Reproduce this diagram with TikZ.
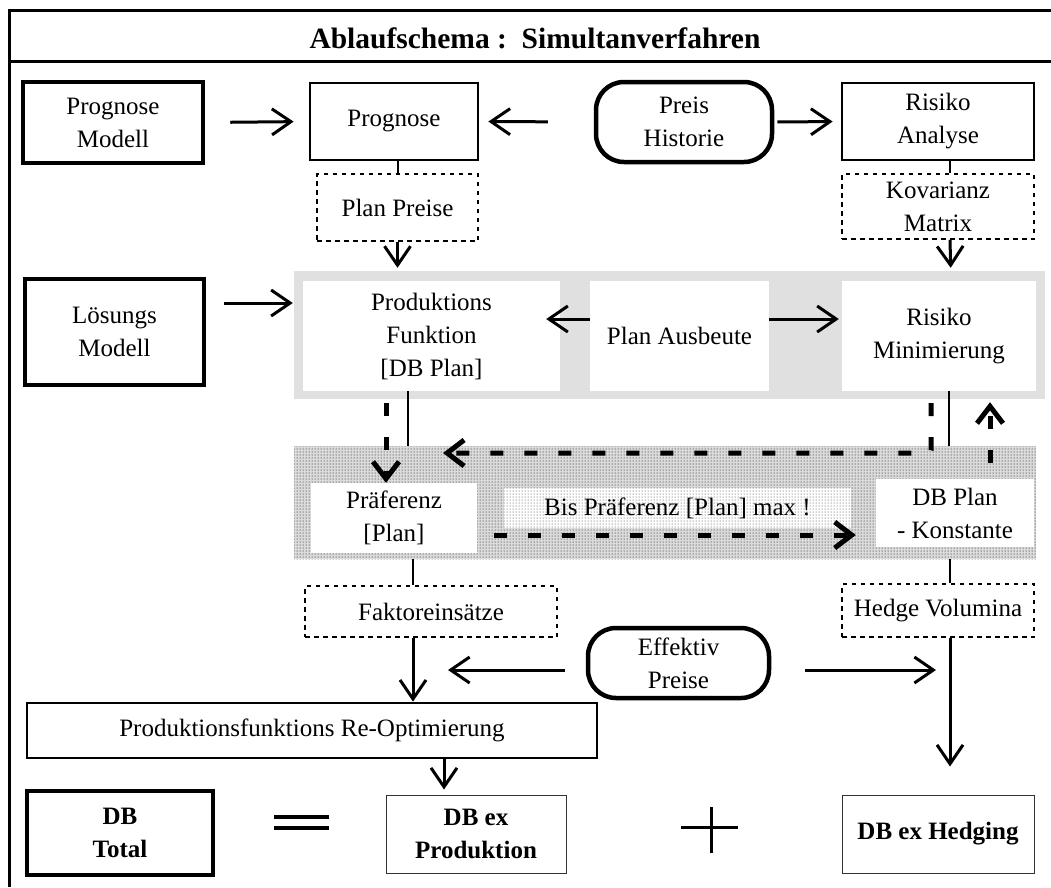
\documentclass[tikz,border=0pt]{standalone}
\usepackage{fontspec}
\setmainfont{Liberation Serif}
\usetikzlibrary{arrows.meta,patterns}

\begin{document}
\begin{tikzpicture}[x=1pt,y=-1pt,
  every node/.style={inner sep=0pt, align=center, font=\fontsize{25}{33}\selectfont},
  bold/.style={font=\fontsize{25}{33}\selectfont\bfseries},
  heavybox/.style={draw, line width=4.5pt},
  framebox/.style={draw, line width=2.8pt},
  thinbox/.style={draw=black!80, line width=1pt},
  dotbox/.style={draw, line width=1.8pt, dash pattern=on 4.5pt off 4.5pt},
  pill/.style={draw, line width=4.5pt, rounded corners=28pt},
  whitebox/.style={fill=white},
  link/.style={line width=2pt},
  arr/.style={line width=3pt, -{Straight Barb[length=19pt,width=26pt]}},
  dasharr/.style={line width=5pt, dash pattern=on 13pt off 21pt, -{Straight Barb[length=17pt,width=26pt,line width=5pt]}},
]
\useasboundingbox (0,0) rectangle (1051,887);

% frame and title bar
\draw[line width=3pt] (1051,10) -- (9,10) -- (9,887);
\draw[line width=3pt] (9,61) -- (1051,61);
\node[font=\fontsize{29.5}{34}\selectfont\bfseries, anchor=base] (title) at (535,48) {Ablaufschema :\ \ Simultanverfahren};

% first row
\node[heavybox, minimum width=180, minimum height=81] (progmod) at (113,122.5) {Prognose\\Modell};
\node[framebox, minimum width=168, minimum height=77] (prog) at (394,121.5) {Prognose};
\node[pill, minimum width=176, minimum height=80] (preis) at (684,122) {Preis\\Historie};
\node[framebox, minimum width=192, minimum height=77] (risana) at (938,121.5) {Risiko\\Analyse};

\draw[arr, shorten <=25pt, shorten >=15pt] (progmod.east) -- (prog.west);
\draw[arr, shorten <=46pt, shorten >=9pt] (preis.west) -- (prog.east);
\draw[arr, shorten <=3pt, shorten >=8pt] (preis.east) -- (risana.west);

% intermediate results
\node[dotbox, minimum width=161, minimum height=67] (planpreise) at (397.5,207.5) {Plan Preise};
\node[dotbox, minimum width=192, minimum height=65] (kov) at (938,206.5) {Kovarianz\\Matrix};

% optimisation band
\node[fill=black!12, minimum width=751, minimum height=128] (band1) at (669.5,335) {};
\node[whitebox, minimum width=257, minimum height=110] (prod) at (431.5,336) {Produktions\\Funktion\\{}[DB Plan]};
\node[whitebox, minimum width=179, minimum height=110] (ausb) at (679.5,336) {Plan Ausbeute};
\node[whitebox, minimum width=194, minimum height=110] (rmin) at (939,336) {Risiko\\Minimierung};
\node[heavybox, minimum width=179, minimum height=106] (loes) at (114.5,332) {Lösungs\\Modell};

\draw[link] (planpreise.north) -- (planpreise.north |- prog.south);
\draw[arr, shorten >=13pt] (planpreise.south) -- (planpreise.south |- prod.north);
\draw[link] ([xshift=12pt]kov.north) -- ([xshift=12pt]risana.south);
\draw[arr, shorten >=13pt] ([xshift=12pt]kov.south) -- ([xshift=12pt]rmin.north);
\draw[arr, shorten <=18pt, shorten >=10pt] ([yshift=29pt]loes.east) -- ([yshift=29pt]loes.east -| prod.west);
\draw[arr, shorten >=-14pt] ([yshift=17pt]ausb.west) -- ([yshift=17pt]ausb.west -| prod.east);
\draw[arr, shorten >=3pt] ([yshift=17pt]ausb.east) -- ([yshift=17pt]ausb.east -| rmin.west);

% preference iteration band
\node[preaction={fill=black!14}, pattern=dots, pattern color=black, minimum width=742, minimum height=113] (band2) at (665,502.5) {};
\node[preaction={fill=white}, pattern=dots, pattern color=black!80, minimum width=347, minimum height=40] (bis) at (677.5,508) {Bis Präferenz [Plan] max !};
\node[whitebox, minimum width=166, minimum height=70] (praef) at (394,518) {Präferenz\\{}[Plan]};
\node[whitebox, minimum width=158, minimum height=68] (dbplan) at (955,513) {DB Plan\\- Konstante};
\coordinate (loopL) at (443,453);

\draw[link] ([xshift=14pt]praef.north |- prod.south) -- ([xshift=14pt]praef.north |- band2.north);
\draw[link] ([xshift=10pt]rmin.south) -- ([xshift=10pt]rmin.south |- band2.north);
\draw[dasharr, shorten <=12pt] ([xshift=-8pt]praef.north |- prod.south) -- ([xshift=-8pt]praef.north);
\draw[dasharr, shorten <=12pt, rounded corners=3pt] ([xshift=-8pt]rmin.south) |- (loopL);
\draw[dasharr, shorten <=17pt, shorten >=20pt] ([yshift=-17pt]praef.east) -- ([yshift=-17pt]praef.east -| dbplan.west);
\draw[dasharr, shorten <=16pt, shorten >=11pt] ([xshift=35pt]dbplan.north) -- ([xshift=35pt]dbplan.north |- rmin.south);

% results of the plan
\node[dotbox, minimum width=252, minimum height=51] (fakt) at (431,611.5) {Faktoreinsätze};
\node[dotbox, minimum width=192, minimum height=53] (hedge) at (938,610.5) {Hedge Volumina};
\node[pill, minimum width=181, minimum height=70] (eff) at (678.5,663) {Effektiv\\Preise};
\node[framebox, minimum width=570, minimum height=55] (reopt) at (312,730.5) {Produktionsfunktions Re-Optimierung};
\coordinate (effL) at (448,670);
\coordinate (effR) at (936,670);

\draw[link] ([xshift=-18pt]fakt.north |- band2.south) -- ([xshift=-18pt]fakt.north);
\draw[link] ([xshift=12pt]hedge.north |- band2.south) -- ([xshift=12pt]hedge.north);
\draw[arr] ([xshift=-18pt]fakt.south) -- ([xshift=-18pt]fakt.south |- reopt.north);
\draw[arr, shorten <=21pt] ([yshift=-7pt]eff.west) -- (effL);
\draw[arr, shorten <=34pt] ([yshift=-7pt]eff.east) -- (effR);

% contribution margins
\node[heavybox, bold, minimum width=186, minimum height=84] (dbtotal) at (120,833) {DB\\Total};
\node[thinbox, bold, minimum width=180, minimum height=78] (dbprod) at (476,834) {DB ex\\Produktion};
\node[thinbox, bold, minimum width=192, minimum height=78] (dbhedge) at (938,834) {DB ex Hedging};

\draw[arr, shorten >=5pt] ([xshift=-32pt]dbprod.north |- reopt.south) -- ([xshift=-32pt]dbprod.north);
\draw[arr, shorten >=28pt] ([xshift=12pt]hedge.south) -- ([xshift=12pt]dbhedge.north);

% equals and plus signs
\draw[line width=4pt] (274,817) -- (329,817) (274,828) -- (329,828);
\draw[line width=3pt] (681,827) -- (738,827) (711,807) -- (711,853);
\end{tikzpicture}
\end{document}
